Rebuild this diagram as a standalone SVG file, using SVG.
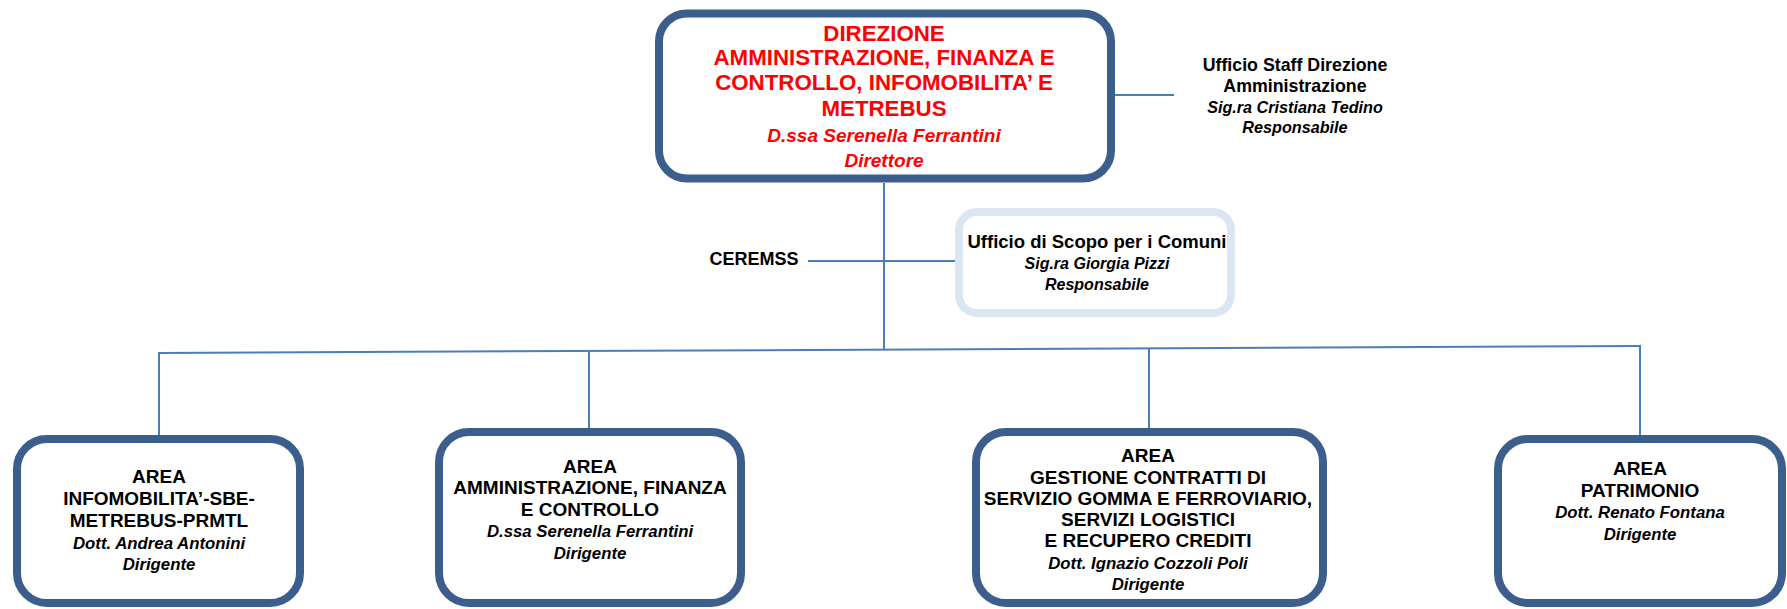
<svg xmlns="http://www.w3.org/2000/svg" width="1787" height="609" viewBox="0 0 1787 609">
<style>
.box{fill:#fff;stroke:#3B5E8C;stroke-width:8}
.sbox{fill:#fff;stroke:#DCE6F2;stroke-width:8}
.ln{stroke:#4A7EBB;stroke-width:2;fill:none}
text{font-family:"Liberation Sans",Arial,sans-serif;text-anchor:middle;fill:#000}
.b{font-weight:bold}
.i{font-weight:bold;font-style:italic}
.red{fill:#FF0000}
.t1{font-size:22.3px}
.t1i{font-size:19px}
.a{font-size:19px}
.ai{font-size:16.8px}
.s{font-size:17.8px}
.si{font-size:16.2px}
.c{font-size:18.5px}
.ci{font-size:16px}
</style>
<rect width="1787" height="609" fill="#fff"/>
<g id="connectors">
<line class="ln" x1="884" y1="183" x2="884" y2="350"/>
<line class="ln" x1="1115" y1="95" x2="1174" y2="95"/>
<line class="ln" x1="808" y1="261" x2="955" y2="261"/>
<line class="ln" x1="158" y1="353" x2="1641" y2="346"/>
<line class="ln" x1="159" y1="353" x2="159" y2="435"/>
<line class="ln" x1="589" y1="351" x2="589" y2="428"/>
<line class="ln" x1="1149" y1="348" x2="1149" y2="428"/>
<line class="ln" x1="1640" y1="346" x2="1640" y2="435"/>
</g>
<g id="direzione">
<rect class="box" x="659" y="13.5" width="452" height="165" rx="28"/>
<text class="b t1 red" x="884" y="41">DIREZIONE</text>
<text class="b t1 red" x="884" y="65">AMMINISTRAZIONE, FINANZA E</text>
<text class="b t1 red" x="884" y="90">CONTROLLO, INFOMOBILITA’ E</text>
<text class="b t1 red" x="884" y="116">METREBUS</text>
<text class="i t1i red" x="884" y="142">D.ssa Serenella Ferrantini</text>
<text class="i t1i red" x="884" y="167">Direttore</text>
</g>
<g id="staff">
<text class="b s" x="1295" y="71">Ufficio Staff Direzione</text>
<text class="b s" x="1295" y="92">Amministrazione</text>
<text class="i si" x="1295" y="113">Sig.ra Cristiana Tedino</text>
<text class="i si" x="1295" y="133">Responsabile</text>
</g>
<g id="ceremss">
<text class="b" x="754" y="265" style="font-size:18px">CEREMSS</text>
</g>
<g id="scopo">
<rect class="sbox" x="959" y="212" width="272" height="101" rx="18"/>
<text class="b c" x="1097" y="248">Ufficio di Scopo per i Comuni</text>
<text class="i ci" x="1097" y="269">Sig.ra Giorgia Pizzi</text>
<text class="i ci" x="1097" y="290">Responsabile</text>
</g>
<g id="area-infomobilita">
<rect class="box" x="17" y="439" width="283" height="164" rx="30"/>
<text class="b a" x="159" y="483">AREA</text>
<text class="b a" x="159" y="505">INFOMOBILITA’-SBE-</text>
<text class="b a" x="159" y="527">METREBUS-PRMTL</text>
<text class="i ai" x="159" y="549">Dott. Andrea Antonini</text>
<text class="i ai" x="159" y="570">Dirigente</text>
</g>
<g id="area-amministrazione">
<rect class="box" x="439" y="432" width="302" height="171" rx="30"/>
<text class="b a" x="590" y="473">AREA</text>
<text class="b a" x="590" y="494">AMMINISTRAZIONE, FINANZA</text>
<text class="b a" x="590" y="516">E CONTROLLO</text>
<text class="i ai" x="590" y="537">D.ssa Serenella Ferrantini</text>
<text class="i ai" x="590" y="559">Dirigente</text>
</g>
<g id="area-gestione">
<rect class="box" x="976" y="432" width="347" height="171" rx="30"/>
<text class="b a" x="1148" y="462">AREA</text>
<text class="b a" x="1148" y="484">GESTIONE CONTRATTI DI</text>
<text class="b a" x="1148" y="505">SERVIZIO GOMMA E FERROVIARIO,</text>
<text class="b a" x="1148" y="526">SERVIZI LOGISTICI</text>
<text class="b a" x="1148" y="547">E RECUPERO CREDITI</text>
<text class="i ai" x="1148" y="569">Dott. Ignazio Cozzoli Poli</text>
<text class="i ai" x="1148" y="590">Dirigente</text>
</g>
<g id="area-patrimonio">
<rect class="box" x="1498" y="439" width="284" height="164" rx="30"/>
<text class="b a" x="1640" y="475">AREA</text>
<text class="b a" x="1640" y="497">PATRIMONIO</text>
<text class="i ai" x="1640" y="518">Dott. Renato Fontana</text>
<text class="i ai" x="1640" y="540">Dirigente</text>
</g>
</svg>
